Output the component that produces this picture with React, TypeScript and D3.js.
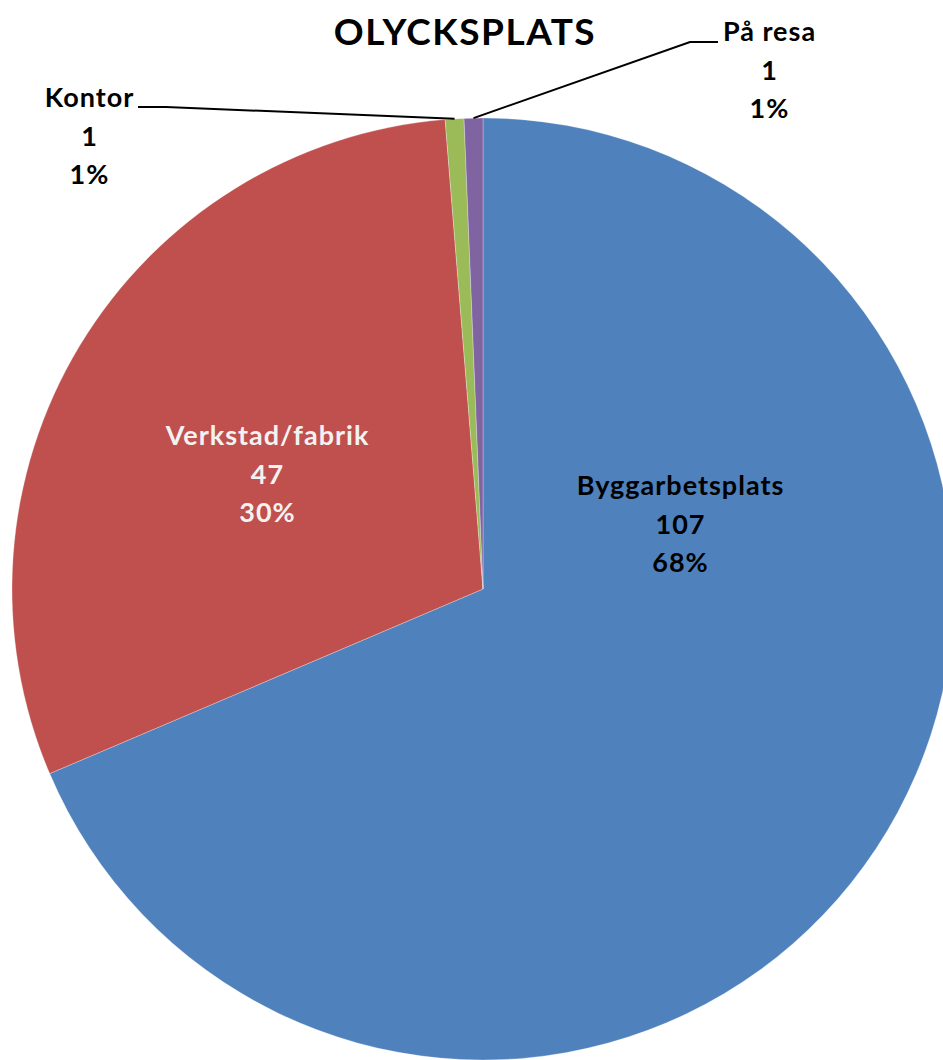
import React from "react";
import * as d3 from "d3";

const categories = ["Byggarbetsplats", "Verkstad/fabrik", "Kontor", "På resa"];
const values = [107, 47, 1, 1];
const percents = ["68%", "30%", "1%", "1%"];
const colors = ["#4F81BD", "#C0504D", "#9BBB59", "#8064A2"];
const title = "OLYCKSPLATS";

const W = 943;
const H = 1060;
const cx = 483;
const cy = 589;
const R = 471;
const FONT = "Lato, 'Open Sans', sans-serif";

// label layout: center x, first baseline y, text colour, leader elbow (if outside)
const labelLayout = [
  { x: 680, y: 495, fill: "#000", leader: null as null | { x: number; y: number; side: number } },
  { x: 267, y: 445, fill: "#F2F2F2", leader: null },
  { x: 89, y: 107, fill: "#000", leader: { x: 138, y: 107, side: 1 } },
  { x: 769, y: 41, fill: "#000", leader: { x: 718, y: 42, side: -1 } },
];
const lineGap = 38.5;

export default function App() {
  const pie = d3.pie<number>().sort(null).value((d) => d)(values);
  const arc = d3.arc<d3.PieArcDatum<number>>().innerRadius(0).outerRadius(R);
  return (
    <svg width={W} height={H} style={{ display: "block", position: "absolute", left: 0, top: 0 }}>
      <rect width={W} height={H} fill="#fff" />
      <g transform={`translate(${cx},${cy})`}>
        {pie.map((p, i) => (
          <path key={i} d={arc(p) || ""} fill={colors[i]} stroke="#ffffff" strokeOpacity={0.35} strokeWidth={0.8} />
        ))}
      </g>
      {pie.map((p, i) => {
        const L = labelLayout[i];
        if (!L.leader) return null;
        const a = (p.startAngle + p.endAngle) / 2;
        const ex = cx + R * Math.sin(a);
        const ey = cy - R * Math.cos(a);
        const elbowX = L.leader.x + L.leader.side * 28;
        const pts = [
          [L.leader.x, L.leader.y],
          [elbowX, L.leader.y],
          [ex, ey],
        ];
        return (
          <polyline key={"l" + i} points={pts.map((q) => q.join(",")).join(" ")} fill="none" stroke="#000" strokeWidth={2} />
        );
      })}
      <text x={465} y={45} textAnchor="middle" fontFamily={FONT} fontWeight={700} fontSize={37} letterSpacing={1.5} fill="#000">
        {title}
      </text>
      {categories.map((c, i) => {
        const L = labelLayout[i];
        return (
          <text key={"t" + i} textAnchor="middle" fontFamily={FONT} fontWeight={700} fontSize={27} letterSpacing={1} fill={L.fill}>
            <tspan x={L.x + 0.5} y={L.y}>{c}</tspan>
            <tspan x={L.x + 0.5} y={L.y + lineGap}>{String(values[i])}</tspan>
            <tspan x={L.x + 0.5} y={L.y + 2 * lineGap}>{percents[i]}</tspan>
          </text>
        );
      })}
    </svg>
  );
}
